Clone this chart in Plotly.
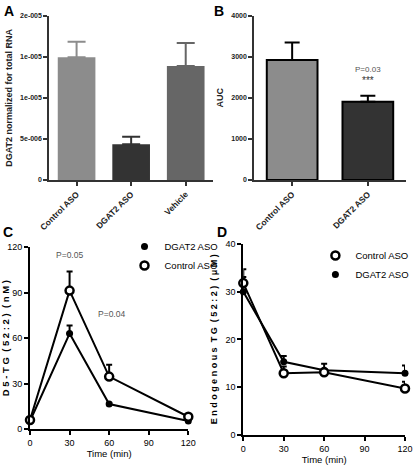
import plotly.graph_objects as go

# ---------------- data ----------------
a_categories = ["Control ASO", "DGAT2 ASO", "Vehicle"]
a_values = [1.494e-5, 4.35e-6, 1.388e-5]
a_errors = [1.9e-6, 9.2e-7, 2.8e-6]
a_tickvals = [0, 5e-6, 1e-5, 1.5e-5, 2e-5]
a_ticktext = ["0", "5e-006", "1e-005", "1e-005", "2e-005"]

b_categories = ["Control ASO", "DGAT2 ASO"]
b_values = [2920, 1905]
b_errors = [430, 148]

time_min = [0, 30, 60, 120]
c_dgat2 = [5.3, 63, 16.5, 5.3]
c_dgat2_err = [0.5, 5.3, 0.8, 0.5]
c_control = [6.0, 91.4, 34.6, 8.1]
c_control_err = [0.5, 12.6, 7.9, 0.8]

d_control = [31.8, 12.9, 13.1, 9.7]
d_control_err = [2.9, 1.4, 0.6, 1.4]
d_dgat2 = [30.0, 15.3, 13.5, 12.9]
d_dgat2_err = [3.1, 1.2, 1.4, 1.6]

a_colors = ["#8c8c8c", "#333333", "#666666"]
b_colors = ["#8c8c8c", "#333333"]

W, H = 415, 471
SANS = "Liberation Sans, Arial, sans-serif"

fig = go.Figure()

# ---- Panel A ----
for cat, v, e, c in zip(a_categories, a_values, a_errors, a_colors):
    fig.add_trace(go.Bar(
        x=[cat], y=[v], width=0.69, marker=dict(color=c, line=dict(width=0)),
        error_y=dict(type="data", array=[e], arrayminus=[0], symmetric=False,
                     color=c, thickness=2, width=9),
        xaxis="x", yaxis="y", showlegend=False))

# ---- Panel B ----
for cat, v, e, c in zip(b_categories, b_values, b_errors, b_colors):
    fig.add_trace(go.Bar(
        x=[cat], y=[v], width=0.67, marker=dict(color=c, line=dict(width=2, color="black")),
        error_y=dict(type="data", array=[e], arrayminus=[0], symmetric=False,
                     color="black", thickness=2, width=7.5),
        xaxis="x2", yaxis="y2", showlegend=False))

open_marker = dict(symbol="circle", size=8, color="white", line=dict(color="black", width=2.5))
filled_marker = dict(symbol="circle", size=7, color="black", line=dict(color="black", width=0))

def series(x, y, err, marker, xa, ya):
    return go.Scatter(
        x=x, y=y, mode="lines+markers", line=dict(color="black", width=2),
        marker=marker, cliponaxis=False,
        error_y=dict(type="data", array=err, arrayminus=[0] * len(err), symmetric=False,
                     color="black", thickness=2, width=3),
        xaxis=xa, yaxis=ya, showlegend=False)

# ---- Panel C ----
fig.add_trace(series(time_min, c_dgat2, c_dgat2_err, filled_marker, "x3", "y3"))
fig.add_trace(series(time_min, c_control, c_control_err, open_marker, "x3", "y3"))
fig.add_trace(go.Scatter(x=[None], y=[None], mode="markers", marker=filled_marker,
                         name="DGAT2 ASO", legend="legend", xaxis="x3", yaxis="y3"))
fig.add_trace(go.Scatter(x=[None], y=[None], mode="markers", marker=open_marker,
                         name="Control ASO", legend="legend", xaxis="x3", yaxis="y3"))

# ---- Panel D ----
fig.add_trace(series(time_min, d_dgat2, d_dgat2_err, filled_marker, "x4", "y4"))
fig.add_trace(series(time_min, d_control, d_control_err, open_marker, "x4", "y4"))
fig.add_trace(go.Scatter(x=[None], y=[None], mode="markers", marker=open_marker,
                         name="Control ASO", legend="legend2", xaxis="x4", yaxis="y4"))
fig.add_trace(go.Scatter(x=[None], y=[None], mode="markers", marker=filled_marker,
                         name="DGAT2 ASO", legend="legend2", xaxis="x4", yaxis="y4"))

def px_x(a, b):
    return [a / W, b / W]

def px_y(top, bottom):
    return [1 - bottom / H, 1 - top / H]

num_tick = dict(family=SANS, size=7, color="#222", weight="bold")
cat_tick = dict(family=SANS, size=8.5, color="#222", weight="bold")
bar_axis = dict(showline=True, linecolor="#333", linewidth=2, ticks="outside",
                tickcolor="#333", tickwidth=2, ticklen=4, showgrid=False, zeroline=False,
                automargin=False)
line_tick = dict(family=SANS, size=9, color="black")
line_axis = dict(showline=True, linecolor="black", linewidth=2, ticks="outside",
                 tickcolor="black", tickwidth=2, ticklen=4, showgrid=False, zeroline=False,
                 automargin=False)
bold_title = dict(family=SANS, size=9, color="#222", weight="bold")

fig.update_layout(
    width=W, height=H, margin=dict(l=0, r=0, t=0, b=0, autoexpand=False),
    paper_bgcolor="white", plot_bgcolor="white", barmode="overlay",
    xaxis=dict(domain=px_x(49.3, 213), anchor="y", tickangle=-45, tickfont=cat_tick,
               categoryorder="array", categoryarray=a_categories, **bar_axis),
    yaxis=dict(domain=px_y(15.7, 180), anchor="x", range=[0, 2e-5],
               tickvals=a_tickvals, ticktext=a_ticktext, tickfont=num_tick,
               title=dict(text="DGAT2 normalized for total RNA", standoff=6, font=bold_title),
               **bar_axis),
    xaxis2=dict(domain=px_x(254.3, 405.7), anchor="y2", tickangle=-45, tickfont=cat_tick,
                categoryorder="array", categoryarray=b_categories, **bar_axis),
    yaxis2=dict(domain=px_y(15.7, 180), anchor="x2", range=[0, 4000],
                tickvals=[0, 1000, 2000, 3000, 4000], tickfont=num_tick,
                title=dict(text="AUC", standoff=6, font=bold_title),
                **bar_axis),
    xaxis3=dict(domain=px_x(30, 188.3), anchor="y3", range=[0, 120],
                tickvals=[0, 30, 60, 90, 120], tickfont=line_tick,
                title=dict(text="Time (min)", standoff=4,
                           font=dict(family=SANS, size=9.5, color="black")),
                **line_axis),
    yaxis3=dict(domain=px_y(247.3, 429), anchor="x3", range=[0, 120],
                tickvals=[0, 30, 60, 90, 120], tickfont=line_tick,
                title=dict(text="D 5 - T G  ( 5 2 : 2 )  ( n M )", standoff=6,
                           font=dict(family=SANS, size=9.5, color="black", weight="bold")),
                **line_axis),
    xaxis4=dict(domain=px_x(243.3, 405), anchor="y4", range=[0, 120],
                tickvals=[0, 30, 60, 90, 120], tickfont=line_tick,
                title=dict(text="Time (min)", standoff=4,
                           font=dict(family=SANS, size=9.5, color="black")),
                **line_axis),
    yaxis4=dict(domain=px_y(244, 434.7), anchor="x4", range=[0, 40],
                tickvals=[0, 10, 20, 30, 40], tickfont=line_tick,
                title=dict(text="E n d o g e n o u s  T G  ( 5 2 : 2 )  ( μ M )", standoff=6,
                           font=dict(family=SANS, size=9, color="black", weight="bold")),
                **line_axis),
    legend=dict(x=0.30, y=1 - 232 / H, xanchor="left", yanchor="top",
                font=dict(family=SANS, size=9.5, color="black"), bgcolor="rgba(0,0,0,0)",
                tracegroupgap=0, itemwidth=30),
    legend2=dict(x=0.76, y=1 - 241 / H, xanchor="left", yanchor="top",
                 font=dict(family=SANS, size=9.5, color="black"), bgcolor="rgba(0,0,0,0)",
                 tracegroupgap=0, itemwidth=30),
)

annotations = [
    dict(text="P=0.03", x="DGAT2 ASO", y=2700, xref="x2", yref="y2", showarrow=False,
         font=dict(family=SANS, size=8, color="#555")),
    dict(text="***", x="DGAT2 ASO", y=2420, xref="x2", yref="y2", showarrow=False,
         font=dict(family=SANS, size=10, color="#333")),
    dict(text="P=0.05", x=30, y=115, xref="x3", yref="y3", showarrow=False,
         font=dict(family=SANS, size=8.5, color="#555")),
    dict(text="P=0.04", x=62, y=76, xref="x3", yref="y3", showarrow=False,
         font=dict(family=SANS, size=8.5, color="#555")),
]
for letter, lx, ly in [("A", 2, 1), ("B", 212, 1), ("C", 1, 222), ("D", 215, 222)]:
    annotations.append(dict(text=letter, x=lx / W, y=1 - ly / H, xref="paper", yref="paper",
                            xanchor="left", yanchor="top", showarrow=False,
                            font=dict(family=SANS, size=14, color="black", weight="bold")))
fig.update_layout(annotations=annotations)

fig.write_html("out.html", config={"displayModeBar": False},
               post_script="document.body.style.margin='0';")
